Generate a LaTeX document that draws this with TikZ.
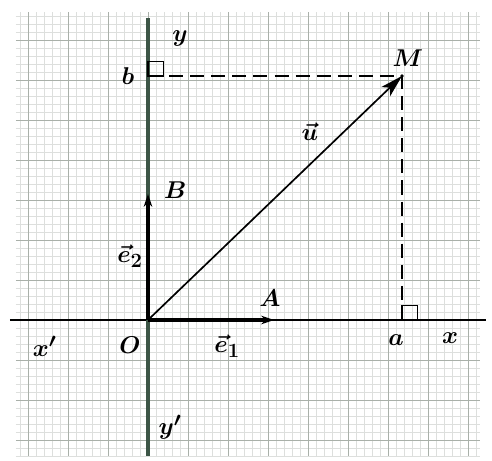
\documentclass[tikz,border=0pt]{standalone}
\usepackage{bm}
\usetikzlibrary{arrows.meta}
\definecolor{axisgreen}{RGB}{60,85,70}
\definecolor{gridgray}{RGB}{140,150,140}
\tikzset{
  minorgrid/.style={draw=gridgray!30, line width=0.3pt},
  majorgrid/.style={draw=gridgray!75, line width=0.6pt},
  xaxisline/.style={line width=1.6pt},
  yaxisline/.style={line width=2.2pt, draw=axisgreen},
  unitvec/.style={-{Stealth[length=9pt,width=6pt]}, line width=2.4pt},
  vecu/.style={-{Stealth[length=16pt,width=9pt,inset=4pt]}, line width=1.2pt},
  proj/.style={dash pattern=on 10pt off 5pt, line width=1.1pt},
  rightmark/.style={line width=0.9pt},
  lbl/.style={font=\fontsize{19}{22}\selectfont, inner sep=1pt}
}
\newcommand{\rightangle}[1]{\draw[rightmark] (#1) rectangle ++(0.38,0.36);}

\begin{document}
\begin{tikzpicture}
  \useasboundingbox (-3.7,-3.525) rectangle (8.6,8);
  % graph paper
  \draw[minorgrid, step=0.2] (-3.3,-3.4) grid (8.3,7.7);
  \draw[majorgrid, step=1] (-3.3,-3.4) grid (8.3,7.7);

  \coordinate (O) at (0,0);
  \coordinate (A) at (3.15,0);
  \coordinate (B) at (0,3.15);
  \coordinate (M) at (6.35,6.1);
  \coordinate (a) at (6.35,0);
  \coordinate (b) at (0,6.1);
  \coordinate (xl) at (-3.45,0);
  \coordinate (xr) at (8.45,0);
  \coordinate (yt) at (0,7.55);
  \coordinate (yb) at (0,-3.4);

  % axes
  \draw[xaxisline] (xl) -- (xr);
  \draw[yaxisline] (yb) -- (yt);

  % vectors
  \draw[unitvec] (O) -- (A);
  \draw[unitvec] (O) -- (B);
  \draw[vecu] (O) -- (M);
  \fill (M) circle (1.4pt);

  % projections
  \draw[proj] (b) -- (M) -- (a);
  \rightangle{b}
  \rightangle{a}

  % labels
  \node[lbl] (ylab) at (0.8,7.05) {$\bm{y}$};
  \node[lbl] (blab) at (-0.5,6.1) {$\bm{b}$};
  \node[lbl] (Mlab) at (6.5,6.55) {$\bm{M}$};
  \node[lbl] (ulab) at (4.05,4.7) {$\bm{\vec{u}}$};
  \node[lbl] (Blab) at (0.68,3.25) {$\bm{B}$};
  \node[lbl] (e2lab) at (-0.45,1.6) {$\bm{\vec{e}_2}$};
  \node[lbl] (Olab) at (-0.45,-0.62) {$\bm{O}$};
  \node[lbl] (xplab) at (-2.58,-0.66) {$\bm{x'}$};
  \node[lbl] (e1lab) at (1.98,-0.66) {$\bm{\vec{e}_1}$};
  \node[lbl] (Alab) at (3.05,0.55) {$\bm{A}$};
  \node[lbl] (alab) at (6.2,-0.5) {$\bm{a}$};
  \node[lbl] (xlab) at (7.55,-0.45) {$\bm{x}$};
  \node[lbl] (yplab) at (0.55,-2.68) {$\bm{y'}$};
\end{tikzpicture}
\end{document}
